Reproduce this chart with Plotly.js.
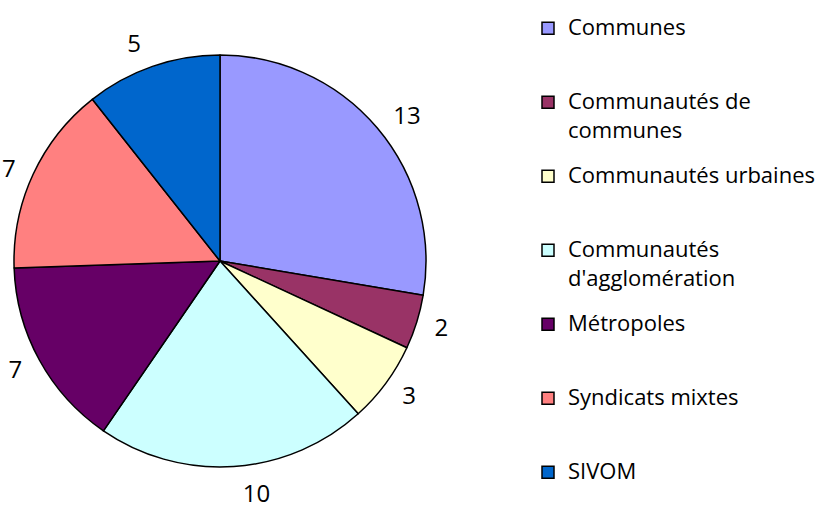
<!DOCTYPE html>
<html><head><meta charset="utf-8">
<script src="https://cdn.plot.ly/plotly-3.0.1.min.js"></script>
<style>html,body{margin:0;padding:0;background:#fff}</style>
</head><body><div id="chart" style="width:828px;height:514px"></div>
<script>
const categories = ["Communes", "Communautés de communes", "Communautés urbaines", "Communautés d'agglomération", "Métropoles", "Syndicats mixtes", "SIVOM"];
const legendNames = ["Communes", "Communautés de<br>communes", "Communautés urbaines", "Communautés<br>d'agglomération", "Métropoles", "Syndicats mixtes", "SIVOM"];
const values = [13, 2, 3, 10, 7, 7, 5];
const colors = ["#9999FF", "#993366", "#FFFFCC", "#CCFFFF", "#660066", "#FF8080", "#0066CC"];

const W = 828, H = 514;
const FONT = "Open Sans, sans-serif";

// legend labels padded to three lines so every entry has the same height (last one needs no padding)
const legendLabels = legendNames.map(function (n, k) {
  const lines = n.split('<br>');
  const out = lines.map(function (l, i) {
    const shift = i > 0 ? ';baseline-shift:-4.5px' : '';
    return '<span style="font-size:22px' + shift + '">' + l + '</span>';
  });
  if (k < legendNames.length - 1) {
    while (out.length < 3) out.push('\u00a0');
  }
  return out.join('<br>');
});

const pie = {
  type: 'pie',
  labels: legendLabels,
  values: values,
  sort: false,
  direction: 'clockwise',
  rotation: 0,
  textinfo: 'none',
  hoverinfo: 'none',
  marker: { colors: colors, line: { color: '#000', width: 1.5 } },
  domain: { x: [14 / W, 426 / W], y: [1 - 467 / H, 1 - 55 / H] },
  showlegend: true
};

// transparent companion pie that carries the value labels just outside the visible pie
const labelPie = {
  type: 'pie',
  labels: legendLabels,
  values: values,
  sort: false,
  direction: 'clockwise',
  rotation: 0,
  textinfo: 'value',
  textposition: 'outside',
  outsidetextfont: { family: FONT, size: 24, color: '#000' },
  hoverinfo: 'none',
  marker: { colors: values.map(function () { return 'rgba(0,0,0,0)'; }), line: { width: 0 } },
  domain: { x: [4 / W, 436 / W], y: [1 - 477 / H, 1 - 45 / H] },
  showlegend: false
};

const layout = {
  width: W, height: H,
  margin: { l: 0, r: 0, t: 0, b: 0 },
  paper_bgcolor: '#fff',
  font: { family: FONT, color: '#000' },
  showlegend: true,
  legend: {
    x: 528 / W, y: 1 - 10 / H, xanchor: 'left', yanchor: 'top',
    font: { family: FONT, size: 18.2, color: '#000' },
    valign: 'top',
    bgcolor: 'rgba(0,0,0,0)',
    itemclick: false, itemdoubleclick: false
  }
};

Plotly.newPlot('chart', [pie, labelPie], layout, { staticPlot: true, displayModeBar: false });
</script>
</body></html>
